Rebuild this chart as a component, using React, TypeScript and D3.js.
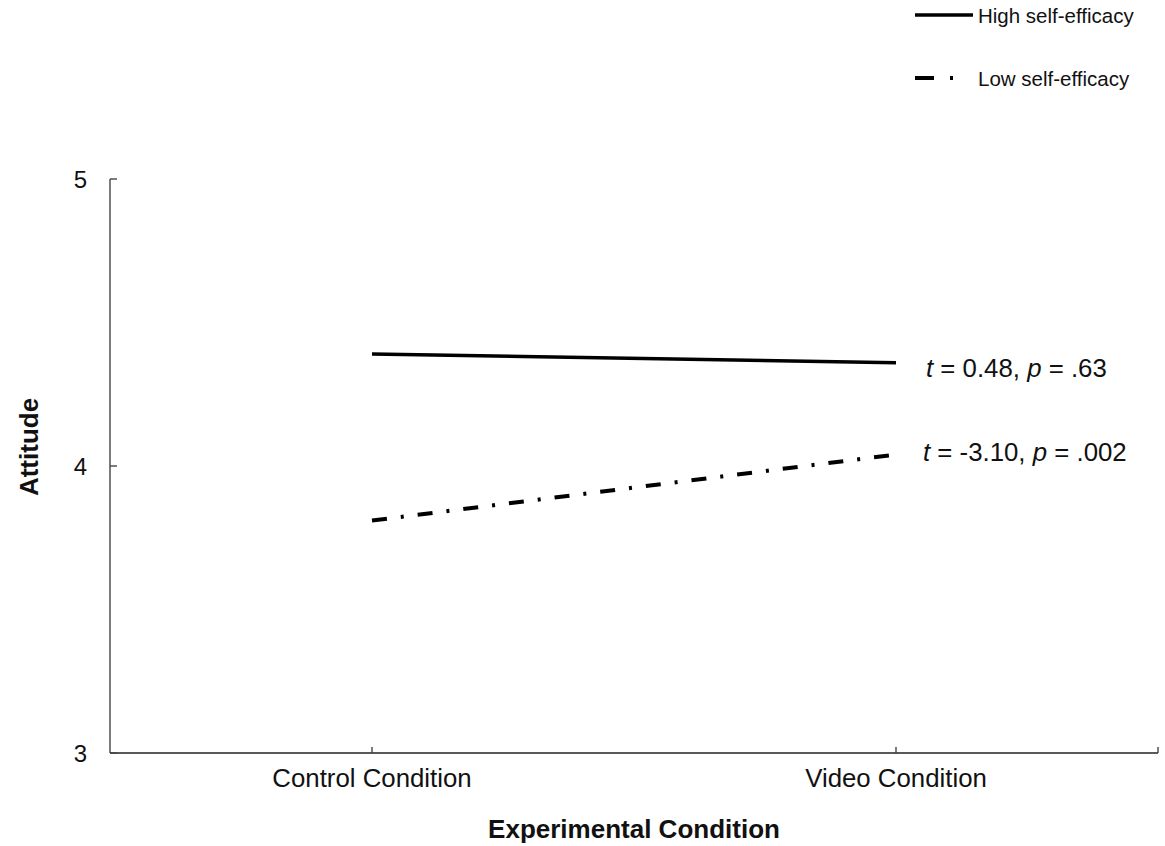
import React from "react";
import * as d3 from "d3";

const categories = ["Control Condition", "Video Condition"];
const highSelfEfficacy = [4.39, 4.36];
const lowSelfEfficacy = [3.81, 4.04];
const yTicks = [3, 4, 5];
const annotations = ["0.48|.63", "-3.10|.002"];
const seriesNames = ["High self-efficacy", "Low self-efficacy"];

const W = 1165;
const H = 846;
const FONT = "'Liberation Sans', Arial, sans-serif";
const DASH = "15 14 3 14";

export default function App() {
  const x = d3.scaleBand<string>().domain(categories).range([110, 1158]);
  const y = d3.scaleLinear().domain([3, 5]).range([753, 179]);
  const cx = (c: string) => (x(c) as number) + x.bandwidth() / 2;

  const line = d3
    .line<number>()
    .x((_, i) => cx(categories[i]))
    .y((d) => y(d));

  const [x0, x1] = x.range();
  const series = [
    { name: seriesNames[0], values: highSelfEfficacy, dash: undefined },
    { name: seriesNames[1], values: lowSelfEfficacy, dash: DASH },
  ];

  return (
    <svg
      width={W}
      height={H}
      style={{ position: "absolute", left: 0, top: 0, display: "block" }}
      fontFamily={FONT}
    >
      {/* axes */}
      <line x1={x0} x2={x0} y1={y(5)} y2={y(3)} stroke="#444" strokeWidth={1.4} />
      <line x1={x0} x2={x1} y1={y(3)} y2={y(3)} stroke="#222" strokeWidth={1.4} />
      {yTicks.map((t) => (
        <g key={t}>
          <line x1={x0} x2={x0 + 7} y1={y(t)} y2={y(t)} stroke="#444" strokeWidth={1.4} />
          <text x={x0 - 23} y={y(t) + 8.5} fontSize={24} textAnchor="end" fill="#111">
            {t}
          </text>
        </g>
      ))}
      {[...categories.map(cx), x1].map((px, i) => (
        <line key={i} x1={px} x2={px} y1={y(3)} y2={y(3) - 6} stroke="#444" strokeWidth={1.4} />
      ))}
      {categories.map((c) => (
        <text key={c} x={cx(c)} y={787} fontSize={25.8} textAnchor="middle" fill="#111">
          {c}
        </text>
      ))}
      <text x={(x0 + x1) / 2} y={838} fontSize={26} fontWeight="bold" textAnchor="middle" fill="#111">
        Experimental Condition
      </text>
      <text
        transform={`translate(38,447) rotate(-90)`}
        fontSize={26}
        fontWeight="bold"
        textAnchor="middle"
        fill="#111"
      >
        Attitude
      </text>

      {/* lines */}
      {series.map((s) => (
        <path
          key={s.name}
          d={line(s.values) as string}
          fill="none"
          stroke="#000"
          strokeWidth={s.dash ? 4 : 3.5}
          strokeDasharray={s.dash}
        />
      ))}

      {/* annotations */}
      {annotations.map((a, i) => {
        const [t, p] = a.split("|");
        const vy = series[i].values[1];
        return (
          <text key={a} x={i === 0 ? 926 : 923} y={y(vy) + (i === 0 ? 14 : 6)} fontSize={25.8} fill="#111">
            <tspan fontStyle="italic">t</tspan>
            {` = ${t}, `}
            <tspan fontStyle="italic">p</tspan>
            {` = ${p}`}
          </text>
        );
      })}

      {/* legend */}
      {series.map((s, i) => {
        const ly = i === 0 ? 15 : 78;
        return (
          <g key={s.name}>
            <line
              x1={915}
              x2={s.dash ? 955 : 973}
              y1={ly}
              y2={ly}
              stroke="#000"
              strokeWidth={s.dash ? 4 : 3.5}
              strokeDasharray={s.dash ? "19 16 3 20" : undefined}
            />
            <text x={978} y={ly + 7.5} fontSize={20.5} fill="#111">
              {s.name}
            </text>
          </g>
        );
      })}
    </svg>
  );
}
